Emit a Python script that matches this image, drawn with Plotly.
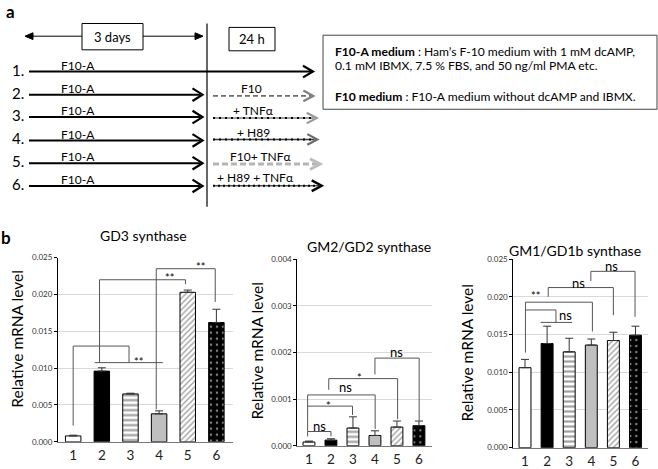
import plotly.graph_objects as go

W, H = 658, 469
FONT = "Lato"

# ---------------- data ----------------
groups = ["1", "2", "3", "4", "5", "6"]
gd3_mean = [0.0008, 0.0096, 0.0065, 0.0038, 0.0203, 0.0162]
gd3_err = [0.0001, 0.00045, 0.0001, 0.0004, 0.0003, 0.0018]
gm2_mean = [0.00008, 0.00012, 0.00038, 0.00022, 0.00040, 0.00043]
gm2_err = [0.00002, 0.00003, 0.00024, 0.00010, 0.00013, 0.00010]
gm1_mean = [0.0106, 0.0138, 0.0127, 0.0136, 0.0142, 0.0149]
gm1_err = [0.0011, 0.0023, 0.0018, 0.0008, 0.0011, 0.0012]
panel_titles = ["GD3 synthase", "GM2/GD2 synthase", "GM1/GD1b synthase"]
y_title = "Relative mRNA level"

row_labels = ["1.", "2.", "3.", "4.", "5.", "6."]
row_first = ["F10-A"] * 6
row_second = ["", "F10", "+ TNF\u03b1", "+ H89", "F10+ TNF\u03b1", "+ H89 + TNF\u03b1"]

# significance brackets: (segments [(x0,y0,x1,y1)], labels [(x,y,text)])
gd3_sig = (
    [(1.0, 0.0130, 2.95, 0.0130), (1.0, 0.0130, 1.0, 0.0022), (2.95, 0.0130, 2.95, 0.01075),
     (1.75, 0.01075, 4.13, 0.01075),
     (1.92, 0.0220, 4.92, 0.0220), (1.92, 0.0220, 1.92, 0.01075), (4.92, 0.0220, 4.92, 0.0214),
     (3.9, 0.0235, 5.96, 0.0235), (3.9, 0.0235, 3.9, 0.0044), (5.96, 0.0235, 5.96, 0.0190)],
    [(3.27, 0.01132, "**"), (4.36, 0.0227, "**"), (5.44, 0.0242, "**")],
)
gm2_sig = (
    [(0.94, 0.000305, 2.0, 0.000305), (0.94, 0.000305, 0.94, 0.0002), (2.0, 0.000305, 2.0, 0.0002),
     (0.94, 0.00085, 2.98, 0.00085), (0.94, 0.00109, 0.94, 0.000305), (2.98, 0.00085, 2.98, 0.00066),
     (0.94, 0.00109, 4.01, 0.00109), (4.01, 0.00109, 4.01, 0.00036),
     (1.9, 0.00144, 5.03, 0.00144), (1.9, 0.00144, 1.9, 0.0012), (5.03, 0.00144, 5.03, 0.00057),
     (4.0, 0.00188, 6.01, 0.00188), (4.0, 0.00188, 4.0, 0.00153), (6.01, 0.00188, 6.01, 0.00054)],
    [(1.5, 0.0004, "ns"), (1.89, 0.00092, "*"), (2.68, 0.00123, "ns"), (3.29, 0.00153, "*"),
     (5.0, 0.00199, "ns")],
)
gm1_sig = (
    [(1.02, 0.01825, 2.4, 0.01825), (1.02, 0.01928, 1.02, 0.0126), (2.4, 0.01825, 2.4, 0.0166),
     (1.7, 0.0166, 3.13, 0.0166),
     (1.02, 0.01928, 4.05, 0.01928), (4.05, 0.01928, 4.05, 0.0154),
     (2.05, 0.02122, 5.0, 0.02122), (2.05, 0.02122, 2.05, 0.0200), (5.0, 0.02122, 5.0, 0.01756),
     (3.98, 0.02337, 5.98, 0.02337), (3.98, 0.02337, 3.98, 0.02208), (5.98, 0.02337, 5.98, 0.01734)],
    [(2.82, 0.01747, "ns"), (1.47, 0.02057, "**"), (3.4, 0.02166, "ns"), (4.93, 0.02389, "ns")],
)

# ---------------- styles ----------------
bar_colors = ["white", "black", "white", "#bfbfbf", "white", "black"]
pattern_shapes = ["", "", "-", "", "/", "."]
pattern_fg = ["black", "black", "black", "black", "black", "white"]
pattern_size = [6, 6, 5, 6, 4, 6]
pattern_solid = [0.3, 0.3, 0.45, 0.3, 0.35, 0.14]


def px(x):
    return x / W


def py(y):
    return 1 - y / H


shapes = []
annotations = []


def line(x0, y0, x1, y1, color="black", width=1, dash="solid"):
    shapes.append(dict(type="line", xref="paper", yref="paper", x0=px(x0), y0=py(y0),
                       x1=px(x1), y1=py(y1), line=dict(color=color, width=width, dash=dash)))


def chevron(xtip, y, color="black", width=2, dx=10, dy=6):
    path = (f"M {px(xtip - dx)},{py(y - dy)} L {px(xtip)},{py(y)} "
            f"L {px(xtip - dx)},{py(y + dy)}")
    shapes.append(dict(type="path", xref="paper", yref="paper", path=path,
                       line=dict(color=color, width=width)))


def tri(xtip, y, direction, size=8, half=3.5):
    xb = xtip - direction * size
    path = (f"M {px(xtip)},{py(y)} L {px(xb)},{py(y - half)} L {px(xb)},{py(y + half)} Z")
    shapes.append(dict(type="path", xref="paper", yref="paper", path=path,
                       fillcolor="black", line=dict(color="black", width=1)))


def rect(x0, y0, x1, y1, color="black", fill="white"):
    shapes.append(dict(type="rect", xref="paper", yref="paper", x0=px(x0), y0=py(y1),
                       x1=px(x1), y1=py(y0), line=dict(color=color, width=1), fillcolor=fill))


def text(x, y, s, size=12, xanchor="center", color="black", angle=0, xref="paper",
         yref="paper", yshift=0):
    if xref == "paper":
        x = px(x)
    if yref == "paper":
        y = py(y)
    annotations.append(dict(x=x, y=y, xref=xref, yref=yref, text=s, showarrow=False,
                            xanchor=xanchor, yanchor="middle", textangle=angle, yshift=yshift,
                            font=dict(family=FONT, size=size, color=color)))


# ---------------- panel a ----------------
text(10.5, 7, "<b>a</b>", 17)
# top double arrow with 3 days box
line(31, 32, 197, 32, width=1)
tri(25, 32, -1)
tri(203, 32, 1)
rect(82, 19, 143, 46)
text(112.5, 33, "3 days", 13)
# vertical separator
line(207, 19, 207, 207, width=1.2)
rect(229, 23, 275, 47)
text(252, 34.5, "24 h", 13)

row_y = [68.3, 92, 115, 139, 162.3, 185.7]
for i, lab in enumerate(row_labels):
    y = row_y[i]
    text(26, y - 2, lab, 15, xanchor="right")
    text(78, y - 6.5, row_first[i], 12)
    if i == 0:
        line(29, y, 311, y, width=2)
        chevron(313, y, width=2.2, dx=10, dy=6)
    else:
        line(29, y, 200, y, width=2)
        chevron(202.5, y, width=2.2, dx=10, dy=6.5)

# second-phase arrows
sec = [
    # (y, tip, text x, text y)
    (93.3, 313.3, 251.7, 85.5),
    (116, 316.7, 253, 108.3),
    (138, 317.3, 253.3, 130.5),
    (163.3, 320, 260, 155.5),
    (185.5, 321.7, 255, 176.7),
]
# row 2: grey dashed
y, tip, tx, ty = sec[0]
line(213, y, tip - 2, y, color="#6e6e6e", width=1.6, dash="5px,3px")
chevron(tip, y, color="#808080", width=2.2, dx=10, dy=5.5)
# row 3: grey line with black dots
y, tip, tx, ty = sec[1]
line(213, y, tip - 3, y, color="#808080", width=1.5)
line(213, y, tip - 3, y, color="black", width=2, dash="2px,4px")
chevron(tip, y, color="#9a9a9a", width=2.2, dx=10, dy=5.5)
# row 4: dark line with dots
y, tip, tx, ty = sec[2]
line(213, y, tip - 3, y, color="#3a3a3a", width=1.5)
line(213, y, tip - 3, y, color="black", width=2, dash="2px,4px")
chevron(tip, y, color="#6a6a6a", width=2.2, dx=10, dy=5.5)
# row 5: light grey thick dashed
y, tip, tx, ty = sec[3]
line(213, y, tip - 3, y, color="#b5b5b5", width=3, dash="6px,3px")
chevron(tip, y, color="#bdbdbd", width=3, dx=10, dy=5.5)
# row 6: black dotted
y, tip, tx, ty = sec[4]
line(213, y, tip - 3, y, color="#555555", width=1.3)
line(213, y, tip - 3, y, color="black", width=2, dash="2px,3px")
chevron(tip, y, color="black", width=2.4, dx=10, dy=5.5)
for k, (y, tip, tx, ty) in enumerate(sec):
    text(tx, ty, row_second[k + 1], 12)

# info box
rect(323, 31, 657, 107, color="#444444")
text(333, 48, "<b>F10-A medium</b> : Ham\u2019s F-10 medium with 1 mM dcAMP,", 12.1,
     xanchor="left")
text(333, 62.3, "0.1 mM IBMX, 7.5 % FBS, and 50 ng/ml PMA etc.", 12.1, xanchor="left")
text(333, 94.3, "<b>F10 medium</b> : F10-A medium without dcAMP and IBMX.", 12.1,
     xanchor="left")

# ---------------- panel b ----------------
text(6, 239, "<b>b</b>", 17)

fig = go.Figure()
xs = [i + 1 for i in range(len(groups))]
panels = [
    (gd3_mean, gd3_err, gd3_sig, 0.025, (58, 233), (448.3, 259.3), (143, 237), (17.5, 343)),
    (gm2_mean, gm2_err, gm2_sig, 0.004, (297.3, 431.7), (452.3, 261), (369, 248), (256.7, 355)),
    (gm1_mean, gm1_err, gm1_sig, 0.025, (513.3, 648.3), (454.3, 260.7), (575, 252), (466.7, 357)),
]
layout_axes = {}
for k, (mean, err, sig, ymax, (xl, xr), (yb, yt), tpos, ypos) in enumerate(panels):
    n = "" if k == 0 else str(k + 1)
    fig.add_trace(go.Bar(
        x=xs, y=mean, width=0.54, xaxis="x" + n, yaxis="y" + n, showlegend=False,
        marker=dict(color=bar_colors, line=dict(color="black", width=1),
                    pattern=dict(shape=pattern_shapes, fgcolor=pattern_fg, bgcolor=bar_colors,
                                 size=pattern_size, solidity=pattern_solid)),
        error_y=dict(type="data", symmetric=False, array=err, arrayminus=[0] * len(err),
                     color="#333333", thickness=1, width=4),
    ))
    layout_axes["xaxis" + n] = dict(
        domain=[px(xl), px(xr)], range=[0.47, 6.58], anchor="y" + n, tickvals=xs,
        ticktext=groups, showline=True, linecolor="#777777", linewidth=1, ticks="",
        showgrid=False, zeroline=False, tickfont=dict(family=FONT, size=13.5, color="#222"),
        ticklabelstandoff=1,
    )
    layout_axes["yaxis" + n] = dict(
        domain=[py(yb), py(yt)], range=[0, ymax], anchor="x" + n,
        dtick=ymax / 5 if ymax > 0.01 else 0.001,
        tickformat=".3f", showline=True, linecolor="black", linewidth=1, ticks="outside",
        ticklen=3, tickcolor="black", gridcolor="#d9d9d9", gridwidth=1, zeroline=False,
        tickfont=dict(family=FONT, size=8, color="#333"),
    )
    text(tpos[0], tpos[1], panel_titles[k], 14)
    text(ypos[0], ypos[1], y_title, 15.5, angle=-90)
    segs, labs = sig
    for (x0, y0, x1, y1) in segs:
        shapes.append(dict(type="line", xref="x" + n, yref="y" + n, x0=x0, y0=y0, x1=x1, y1=y1,
                           line=dict(color="#555555", width=1)))
    for (lx, ly, s) in labs:
        if s == "ns":
            text(lx, ly, s, 13, xref="x" + n, yref="y" + n, yshift=1)
        else:
            text(lx, ly, s, 11, xref="x" + n, yref="y" + n, yshift=-3)

fig.update_layout(
    width=W, height=H, margin=dict(l=0, r=0, t=0, b=0), paper_bgcolor="white",
    plot_bgcolor="white", font=dict(family=FONT), shapes=shapes, annotations=annotations,
    bargap=0.3, **layout_axes,
)
fig.write_html("out.html", config={"displayModeBar": False},
               post_script="document.body.style.margin='0';document.body.style.padding='0';")
